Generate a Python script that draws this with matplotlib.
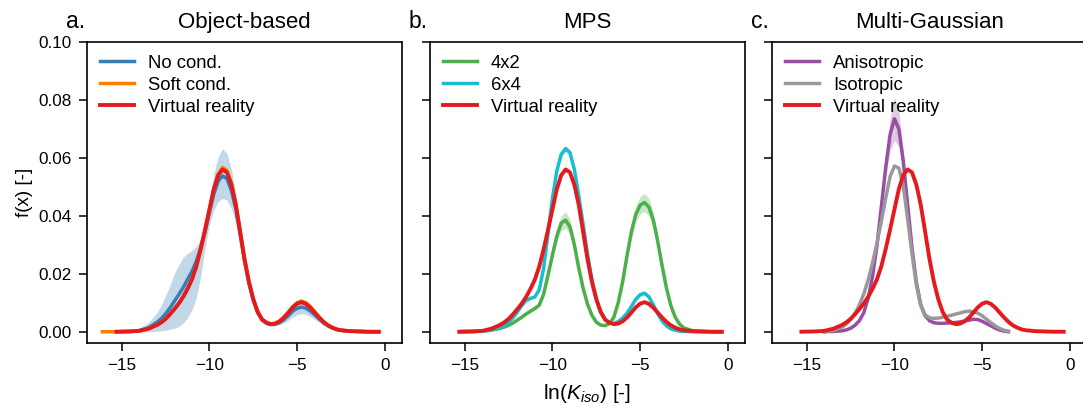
import numpy as np
import matplotlib
matplotlib.use("Agg")
import matplotlib.pyplot as plt

# Style settings
plt.rcParams['font.family'] = ['Liberation Sans', 'DejaVu Sans']
plt.rcParams['mathtext.fontset'] = 'custom'
plt.rcParams['mathtext.rm'] = 'Liberation Sans'
plt.rcParams['mathtext.it'] = 'Liberation Sans:italic'

C_BLUE = '#377eb8'
C_ORANGE = '#ff7f00'
C_RED = '#e41a1c'
C_GREEN = '#4daf4a'
C_CYAN = '#17becf'
C_PURPLE = '#984ea3'
C_GRAY = '#999999'
LW = 2.5
BAND_ALPHA = 0.3

nan = np.nan

# ln(K_iso) positions where the curves were read
x_grid = [-16.1, -15.3, -14.5, -14.0, -13.5,
          -13.0, -12.75, -12.5, -12.25, -12.0, -11.75, -11.5, -11.25, -11.0, -10.75,
          -10.5, -10.25, -10.0, -9.75, -9.5, -9.25, -9.0, -8.75, -8.5, -8.25,
          -8.0, -7.75, -7.5, -7.25, -7.0, -6.75, -6.5, -6.25, -6.0, -5.75,
          -5.5, -5.25, -5.0, -4.75, -4.5, -4.25, -4.0, -3.75, -3.5, -3.25,
          -3.0, -2.75, -2.5, -2.0, -1.5, -1.0, -0.35]

# Virtual reality (same reference in every panel)
virtual_reality = [nan, 0.0, 0.0001, 0.0003, 0.0010,
                   0.0023, 0.0032, 0.0044, 0.0060, 0.0078, 0.0097, 0.0120, 0.0148, 0.0180, 0.0225,
                   0.0285, 0.0352, 0.0422, 0.0492, 0.0540, 0.0560, 0.0550, 0.0507, 0.0438, 0.0345,
                   0.0250, 0.0172, 0.0112, 0.0068, 0.0042, 0.0031, 0.0026, 0.0028, 0.0036, 0.0049,
                   0.0066, 0.0084, 0.0097, 0.0102, 0.0096, 0.0083, 0.0066, 0.0049, 0.0034, 0.0022,
                   0.0014, 0.0008, 0.0005, 0.0002, 0.0001, 0.0, 0.0]

# a. Object-based
no_cond = [nan, 0.0, 0.0001, 0.0004, 0.0013,
           0.0032, 0.0045, 0.0062, 0.0082, 0.0105, 0.0128, 0.0152, 0.0180, 0.0208, 0.0243,
           0.0288, 0.0345, 0.0413, 0.0475, 0.0520, 0.0538, 0.0528, 0.0488, 0.0425, 0.0336,
           0.0245, 0.0168, 0.0108, 0.0066, 0.0040, 0.0029, 0.0025, 0.0026, 0.0032, 0.0042,
           0.0056, 0.0071, 0.0081, 0.0085, 0.0081, 0.0071, 0.0058, 0.0044, 0.0031, 0.0021,
           0.0013, 0.0008, 0.0005, 0.0002, 0.0001, 0.0, 0.0]
no_cond_lo = [nan, 0.0, 0.0, 0.0, 0.0,
              0.0002, 0.0003, 0.0005, 0.0008, 0.0012, 0.0018, 0.0030, 0.0048, 0.0075, 0.0115,
              0.0190, 0.0290, 0.0370, 0.0420, 0.0450, 0.0460, 0.0455, 0.0425, 0.0375, 0.0300,
              0.0220, 0.0150, 0.0095, 0.0057, 0.0034, 0.0024, 0.0020, 0.0020, 0.0024, 0.0030,
              0.0040, 0.0051, 0.0059, 0.0063, 0.0060, 0.0052, 0.0042, 0.0032, 0.0022, 0.0015,
              0.0009, 0.0005, 0.0003, 0.0001, 0.0, 0.0, 0.0]
no_cond_hi = [nan, 0.0, 0.0005, 0.0012, 0.0030,
              0.0065, 0.0090, 0.0125, 0.0160, 0.0200, 0.0230, 0.0257, 0.0270, 0.0280, 0.0295,
              0.0320, 0.0370, 0.0455, 0.0545, 0.0605, 0.0632, 0.0615, 0.0560, 0.0480, 0.0375,
              0.0275, 0.0190, 0.0122, 0.0076, 0.0047, 0.0035, 0.0030, 0.0033, 0.0042, 0.0056,
              0.0074, 0.0093, 0.0107, 0.0113, 0.0108, 0.0095, 0.0078, 0.0059, 0.0042, 0.0028,
              0.0018, 0.0011, 0.0007, 0.0003, 0.0001, 0.0, 0.0]
soft_cond = [0.0, 0.0, 0.0001, 0.0003, 0.0010,
             0.0023, 0.0032, 0.0044, 0.0060, 0.0078, 0.0097, 0.0120, 0.0148, 0.0180, 0.0225,
             0.0285, 0.0352, 0.0424, 0.0495, 0.0545, 0.0567, 0.0556, 0.0512, 0.0442, 0.0348,
             0.0252, 0.0173, 0.0113, 0.0069, 0.0043, 0.0032, 0.0027, 0.0029, 0.0037, 0.0051,
             0.0068, 0.0087, 0.0100, 0.0106, 0.0100, 0.0087, 0.0069, 0.0051, 0.0035, 0.0023,
             0.0015, 0.0009, 0.0005, 0.0002, 0.0001, 0.0, 0.0]

# b. MPS
mps_4x2 = [nan, 0.0, 0.0001, 0.0002, 0.0005,
           0.0011, 0.0016, 0.0022, 0.0030, 0.0040, 0.0050, 0.0061, 0.0071, 0.0080, 0.0092,
           0.0130, 0.0195, 0.0265, 0.0330, 0.0375, 0.0385, 0.0362, 0.0300, 0.0220, 0.0150,
           0.0095, 0.0057, 0.0033, 0.0023, 0.0021, 0.0028, 0.0050, 0.0100, 0.0172, 0.0262,
           0.0345, 0.0405, 0.0437, 0.0446, 0.0430, 0.0385, 0.0312, 0.0228, 0.0150, 0.0090,
           0.0050, 0.0026, 0.0013, 0.0003, 0.0001, 0.0, 0.0]
mps_4x2_spread = [nan, 0, 0, 0, 0,
                  0.0001, 0.0001, 0.0001, 0.0002, 0.0002, 0.0003, 0.0003, 0.0004, 0.0004, 0.0005,
                  0.0008, 0.0012, 0.0017, 0.0022, 0.0026, 0.0028, 0.0026, 0.0021, 0.0015, 0.0010,
                  0.0006, 0.0004, 0.0002, 0.0002, 0.0002, 0.0002, 0.0003, 0.0006, 0.0011, 0.0017,
                  0.0023, 0.0027, 0.0030, 0.0031, 0.0030, 0.0027, 0.0021, 0.0015, 0.0010, 0.0006,
                  0.0003, 0.0002, 0.0001, 0, 0, 0, 0]
mps_6x4 = [nan, 0.0, 0.0001, 0.0002, 0.0006,
           0.0014, 0.0021, 0.0032, 0.0048, 0.0068, 0.0090, 0.0108, 0.0115, 0.0120, 0.0145,
           0.0220, 0.0340, 0.0460, 0.0555, 0.0612, 0.0632, 0.0618, 0.0560, 0.0470, 0.0370,
           0.0268, 0.0180, 0.0115, 0.0070, 0.0042, 0.0032, 0.0029, 0.0035, 0.0047, 0.0064,
           0.0087, 0.0112, 0.0128, 0.0133, 0.0120, 0.0093, 0.0062, 0.0037, 0.0020, 0.0010,
           0.0005, 0.0002, 0.0001, 0.0, 0.0, 0.0, 0.0]
mps_6x4_spread = [nan, 0, 0, 0, 0,
                  0.0001, 0.0001, 0.0001, 0.0002, 0.0003, 0.0003, 0.0004, 0.0004, 0.0004, 0.0004,
                  0.0005, 0.0006, 0.0008, 0.0009, 0.0010, 0.0010, 0.0010, 0.0009, 0.0008, 0.0006,
                  0.0005, 0.0004, 0.0003, 0.0002, 0.0001, 0.0001, 0.0001, 0.0001, 0.0002, 0.0003,
                  0.0004, 0.0006, 0.0007, 0.0007, 0.0006, 0.0005, 0.0003, 0.0002, 0.0001, 0.0001,
                  0, 0, 0, 0, 0, 0, 0]

# c. Multi-Gaussian
anisotropic = [nan, nan, nan, 0.0, 0.0001,
               0.0003, 0.0006, 0.0012, 0.0022, 0.0038, 0.0065, 0.0115, 0.0190, 0.0295, 0.0430,
               0.0565, 0.0680, 0.0735, 0.0700, 0.0590, 0.0440, 0.0290, 0.0170, 0.0093, 0.0055,
               0.0038, 0.0031, 0.0029, 0.0029, 0.0030, 0.0031, 0.0032, 0.0034, 0.0037, 0.0040,
               0.0043, 0.0042, 0.0036, 0.0028, 0.0020, 0.0012, 0.0006, 0.0002, 0.0, nan,
               nan, nan, nan, nan, nan, nan, nan]
anisotropic_spread = [nan, nan, nan, 0, 0,
                      0, 0, 0.0001, 0.0001, 0.0002, 0.0003, 0.0005, 0.0008, 0.0012, 0.0018,
                      0.0030, 0.0055, 0.0075, 0.0060, 0.0035, 0.0020, 0.0012, 0.0007, 0.0004, 0.0002,
                      0.0002, 0.0001, 0.0001, 0.0001, 0.0001, 0.0001, 0.0001, 0.0002, 0.0002, 0.0002,
                      0.0002, 0.0002, 0.0002, 0.0001, 0.0001, 0.0001, 0, 0, 0, nan,
                      nan, nan, nan, nan, nan, nan, nan]
isotropic = [nan, nan, nan, 0.0, 0.0004,
             0.0016, 0.0026, 0.0042, 0.0063, 0.0092, 0.0130, 0.0178, 0.0237, 0.0305, 0.0380,
             0.0460, 0.0535, 0.0572, 0.0565, 0.0505, 0.0390, 0.0270, 0.0160, 0.0090, 0.0058,
             0.0048, 0.0046, 0.0047, 0.0050, 0.0053, 0.0057, 0.0061, 0.0065, 0.0069, 0.0071,
             0.0069, 0.0064, 0.0055, 0.0043, 0.0031, 0.0020, 0.0011, 0.0005, 0.0002, nan,
             nan, nan, nan, nan, nan, nan, nan]

x = np.array(x_grid)


def arr(values):
    a = np.array(values, dtype=float)
    assert len(a) == len(x)
    return a


def draw_band(ax, mean, spread, color):
    m = arr(mean)
    s = arr(spread)
    ax.fill_between(x, m - s, m + s, color=color, alpha=BAND_ALPHA, lw=0)


fig = plt.figure(figsize=(10.83, 4.07), dpi=100)
panel_left = [0.0803, 0.3970, 0.7128]
axes = [fig.add_axes([l, 0.1572, 0.2905, 0.7396]) for l in panel_left]
ax_a, ax_b, ax_c = axes

# a. Object-based
ax_a.fill_between(x, arr(no_cond_lo), arr(no_cond_hi), color=C_BLUE, alpha=BAND_ALPHA, lw=0)
ax_a.plot(x, arr(no_cond), color=C_BLUE, lw=LW, label='No cond.')
ax_a.plot(x, arr(soft_cond), color=C_ORANGE, lw=LW, label='Soft cond.')
ax_a.plot(x, arr(virtual_reality), color=C_RED, lw=LW + 0.3, label='Virtual reality')

# b. MPS
draw_band(ax_b, mps_4x2, mps_4x2_spread, C_GREEN)
draw_band(ax_b, mps_6x4, mps_6x4_spread, C_CYAN)
ax_b.plot(x, arr(mps_4x2), color=C_GREEN, lw=LW, label='4x2')
ax_b.plot(x, arr(mps_6x4), color=C_CYAN, lw=LW, label='6x4')
ax_b.plot(x, arr(virtual_reality), color=C_RED, lw=LW + 0.3, label='Virtual reality')

# c. Multi-Gaussian
draw_band(ax_c, anisotropic, anisotropic_spread, C_PURPLE)
ax_c.plot(x, arr(anisotropic), color=C_PURPLE, lw=LW, label='Anisotropic')
ax_c.plot(x, arr(isotropic), color=C_GRAY, lw=LW, label='Isotropic')
ax_c.plot(x, arr(virtual_reality), color=C_RED, lw=LW + 0.3, label='Virtual reality')

titles = ['Object-based', 'MPS', 'Multi-Gaussian']
letters = ['a.', 'b.', 'c.']
for ax, title, letter in zip(axes, titles, letters):
    ax.set_xlim(-16.98, 0.95)
    ax.set_ylim(-0.0039, 0.1)
    ax.set_xticks([-15, -10, -5, 0])
    ax.set_yticks([0.0, 0.02, 0.04, 0.06, 0.08, 0.10])
    ax.tick_params(direction='out', length=6, width=1.1, pad=5, labelsize=12.3)
    for sp in ax.spines.values():
        sp.set_linewidth(1.2)
    ax.set_title(title, fontsize=16, pad=10)
    ax.text(-0.067, 1.0 + 14 / 301, letter, transform=ax.transAxes,
            fontsize=16.5, ha='left', va='baseline')
    ax.legend(loc='upper left', frameon=False, fontsize=13.3, labelspacing=0.27,
              handlelength=1.85, handletextpad=0.75, borderaxespad=0.3)

ax_a.set_yticklabels(['0.00', '0.02', '0.04', '0.06', '0.08', '0.10'])
ax_b.set_yticklabels([])
ax_c.set_yticklabels([])
ax_a.set_ylabel('f(x) [-]', fontsize=13.5, labelpad=4)
ax_b.set_xlabel(r'ln($K_{iso}$) [-]', fontsize=15, labelpad=6)

fig.savefig('out.png', dpi=100)
